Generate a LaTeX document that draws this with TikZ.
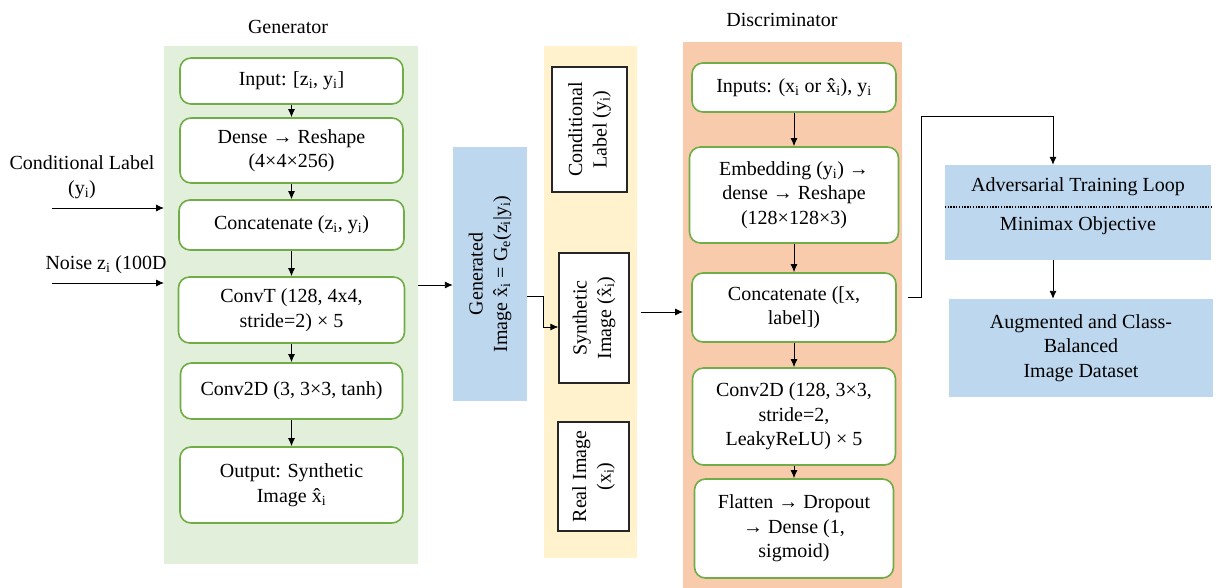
\documentclass[tikz,border=0pt]{standalone}
\usepackage{fontspec}
\setmainfont{Liberation Serif}
\usetikzlibrary{arrows.meta, positioning}

\definecolor{genfill}{HTML}{E2EFDA}
\definecolor{disfill}{HTML}{F8CBAD}
\definecolor{selfill}{HTML}{FFF2CC}
\definecolor{outfill}{HTML}{BDD7EE}
\definecolor{boxline}{HTML}{70AD47}

\newcommand{\sbi}{\textsubscript{i}}

\tikzset{
    panel/.style = {inner sep=0pt, outer sep=0pt},
    gbox/.style = {draw=boxline, line width=1.6pt, rounded corners=11pt, fill=white, align=center, inner sep=2pt},
    tbox/.style = {draw=black!85, line width=1.1pt, fill=white, inner sep=0pt},
    bbox/.style = {fill=outfill, align=center, inner sep=0pt},
    arr/.style = {-{Latex[length=8pt,width=7pt]}, line width=0.9pt},
}

\begin{document}
\begin{tikzpicture}[x=1pt, y=-1pt, font=\fontsize{20}{24.5}\selectfont]
    \useasboundingbox (0,0) rectangle (1218,588);

    % background panels
    \node (gpan) [panel, fill=genfill, minimum width=254pt, minimum height=518pt] at (291,305) {};
    \node (span) [panel, fill=selfill, minimum width=93pt, minimum height=512pt] at (590.5,302) {};
    \node (dpan) [panel, fill=disfill, minimum width=219pt, minimum height=546pt] at (792.5,315) {};
    \node (gtitle) at (288,27) {Generator};
    \node (dtitle) at (782,20) {Discriminator};

    % generator
    \node (gin) [gbox, minimum width=223pt, minimum height=46pt] at (291.5,81) {Input: [z\sbi, y\sbi]};
    \node (gdense) [gbox, minimum width=223pt, minimum height=65pt] at (291.5,150.5) {Dense \textrightarrow{} Reshape\\(4×4×256)};
    \node (gcat) [gbox, minimum width=225pt, minimum height=50pt] at (291.5,225) {Concatenate (z\sbi, y\sbi)};
    \node (gconvt) [gbox, minimum width=226pt, minimum height=66pt] at (291.5,310) {ConvT (128, 4x4,\\stride=2) × 5};
    \node (gconv) [gbox, minimum width=222pt, minimum height=56pt] at (291.5,391) {Conv2D (3, 3×3, tanh)};
    \node (gout) [gbox, minimum width=223pt, minimum height=76pt] at (291.5,485) {Output: Synthetic\\Image \^x\sbi};

    \path [arr]
        (gin) edge (gdense)
        (gdense) edge (gcat)
        (gcat) edge (gconvt)
        (gconvt) edge (gconv)
        (gconv) edge (gout);

    % inputs on the left
    \node (lbl) [align=center] at (82,177) {Conditional Label\\(y\sbi)};
    \node (noise) [anchor=west] at (42,265) {Noise z\sbi{} (100D};
    \coordinate (lblin) at (52,208);
    \coordinate (noisein) at (52,283);
    \draw [arr] (lblin) -- (lblin -| gpan.west);
    \draw [arr] (noisein) -- (noisein -| gpan.west);

    % generated image and the samples
    \node (genimg) [bbox, minimum width=74pt, minimum height=254pt,
        label={[rotate=90, align=center]center:{Generated\\Image \^x\sbi{} = G\textsubscript{e}(z\sbi|y\sbi)}}] at (490,274) {};
    \node (clabel) [tbox, minimum width=75pt, minimum height=125pt,
        label={[rotate=90, align=center]center:{Conditional\\Label (y\sbi)}}] at (589.5,129.5) {};
    \node (synth) [tbox, minimum width=70pt, minimum height=130pt,
        label={[rotate=90, align=center]center:{Synthetic\\Image (\^x\sbi)}}] at (594,318) {};
    \node (real) [tbox, minimum width=71pt, minimum height=109pt,
        label={[rotate=90, align=center]center:{Real Image\\(x\sbi)}}] at (593.5,476.5) {};

    \draw [arr] ([yshift=-11pt]genimg.west -| gpan.east) -- ([yshift=-11pt]genimg.west);
    \draw [arr] ([yshift=-22pt]genimg.east) -- ++(16,0) |- ([yshift=-9pt]synth.west);
    \draw [arr] ([xshift=11pt,yshift=6pt]synth.east) -- ([yshift=6pt]synth.east -| dpan.west);

    % discriminator
    \node (din) [gbox, minimum width=204pt, minimum height=49pt] at (794,87.5) {Inputs: (x\sbi{} or \^x\sbi), y\sbi};
    \node (demb) [gbox, minimum width=209pt, minimum height=96pt] at (794,195) {Embedding (y\sbi) \textrightarrow\\dense \textrightarrow{} Reshape\\(128×128×3)};
    \node (dcat) [gbox, minimum width=204pt, minimum height=69pt] at (794,307.5) {Concatenate ([x,\\label])};
    \node (dconv) [gbox, minimum width=203pt, minimum height=97pt] at (794,416.5) {Conv2D (128, 3×3,\\stride=2,\\LeakyReLU) × 5};
    \node (dflat) [gbox, minimum width=199pt, minimum height=99pt] at (794,528.5) {Flatten \textrightarrow{} Dropout\\\textrightarrow{} Dense (1,\\sigmoid)};

    \path [arr]
        (din) edge (demb)
        (demb) edge (dcat)
        (dcat) edge (dconv)
        (dconv) edge (dflat);

    % training loop and output
    \node (adv) [bbox, minimum width=266pt, minimum height=95pt] at (1078,212.5) {};
    \node (advtop) at (1078,187) {Adversarial Training Loop};
    \node (advbot) at (1078,226) {Minimax Objective};
    \draw [line width=1.4pt, dash pattern=on 1.4pt off 1.4pt] ([yshift=5.5pt]adv.west) -- ([yshift=5.5pt]adv.east);
    \node (aug) [bbox, minimum width=264pt, minimum height=98pt] at (1081,348) {Augmented and Class-\\Balanced\\Image Dataset};

    \coordinate (looptop) at (1053,116);
    \draw [arr] ([xshift=11pt,yshift=10pt]dcat.east) -- ++(14,0) |- (looptop) -- (looptop |- adv.north);
    \draw [arr] ([xshift=-25pt]adv.south) -- ([xshift=-25pt]adv.south |- aug.north);
\end{tikzpicture}
\end{document}
